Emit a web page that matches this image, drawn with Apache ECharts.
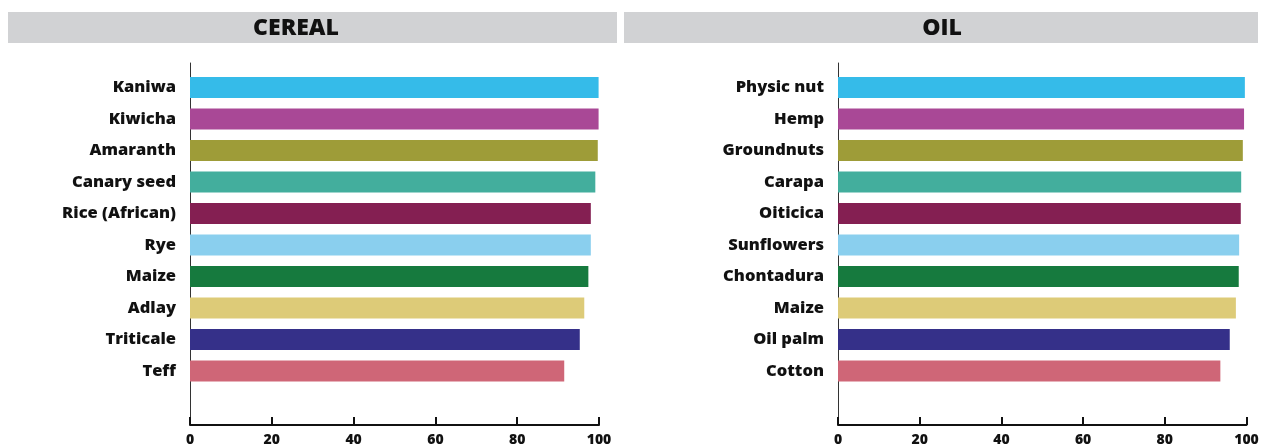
<!DOCTYPE html>
<html><head><meta charset="utf-8">
<script src="https://cdn.jsdelivr.net/npm/echarts@6/dist/echarts.min.js"></script>
<style>html,body{margin:0;padding:0;background:#fff}#c{width:1265px;height:447px}</style>
</head><body><div id="c"></div>
<script>
const panelTitles = ['CEREAL', 'OIL'];
const cerealCategories = ['Kaniwa','Kiwicha','Amaranth','Canary seed','Rice (African)','Rye','Maize','Adlay','Triticale','Teff'];
const cerealValues = [99.9, 99.9, 99.7, 99.1, 98.0, 98.0, 97.4, 96.4, 95.3, 91.5];
const oilCategories = ['Physic nut','Hemp','Groundnuts','Carapa','Oiticica','Sunflowers','Chontadura','Maize','Oil palm','Cotton'];
const oilValues = [99.6, 99.4, 99.1, 98.7, 98.6, 98.2, 98.1, 97.4, 95.9, 93.6];
const xTicks = [0, 20, 40, 60, 80, 100];
const barColors = ['#35bbe9','#a94896','#9e9c38','#43ae9d','#841f52','#8acfee','#167a3e','#ddcb78','#353089','#cf6677'];

const FONT = '"Open Sans", "Noto Sans", sans-serif';
const panels = [
  {left: 190, right: 666, cats: cerealCategories, vals: cerealValues, hx: 8, hw: 609, tx: 296},
  {left: 838, right: 18.5, cats: oilCategories, vals: oilValues, hx: 624, hw: 634, tx: 942}
];

const grid = [], xAxis = [], yAxis = [], series = [], graphic = [];
panels.forEach((p, i) => {
  grid.push({left: p.left, right: p.right, top: 63, bottom: 21});
  grid.push({left: p.left, right: p.right, top: 71.75, height: 315});
  const ga = i * 2, gb = i * 2 + 1;
  xAxis.push({
    gridIndex: ga, type: 'value', min: 0, max: 100, interval: 20,
    axisLine: {show: true, lineStyle: {color: '#111', width: 2}},
    axisTick: {show: true, inside: true, length: 8, lineStyle: {color: '#111', width: 2}},
    axisLabel: {color: '#111', fontFamily: FONT, fontWeight: 800, fontSize: 14, margin: 8,
      formatter: v => xTicks.includes(v) ? String(v) : ''},
    splitLine: {show: false}
  });
  xAxis.push({gridIndex: gb, type: 'value', min: 0, max: 100, show: false});
  yAxis.push({
    gridIndex: ga, type: 'value', min: 0, max: 1,
    axisLine: {show: true, lineStyle: {color: '#333', width: 1}},
    axisTick: {show: false}, axisLabel: {show: false}, splitLine: {show: false}
  });
  yAxis.push({
    gridIndex: gb, type: 'category', inverse: true, data: p.cats,
    axisLine: {show: false}, axisTick: {show: false},
    axisLabel: {color: '#111', fontFamily: FONT, fontWeight: 800, fontSize: 16.5, margin: 14,
      padding: [7, 0, 0, 0]}
  });
  series.push({
    type: 'bar', xAxisIndex: gb, yAxisIndex: gb, barWidth: 21,
    data: p.vals.map((v, k) => ({value: v, itemStyle: {color: barColors[k]}})),
    silent: true
  });
  graphic.push({type: 'rect', left: p.hx, top: 12, shape: {width: p.hw, height: 31}, style: {fill: '#d1d2d4'}});
  graphic.push({type: 'text', x: p.tx, y: 28, style: {text: panelTitles[i], fill: '#111',
    font: '800 23px ' + FONT, textAlign: 'center', textVerticalAlign: 'middle'}});
});

const chart = echarts.init(document.getElementById('c'), null, {renderer: 'canvas'});
chart.setOption({animation: false, grid, xAxis, yAxis, series, graphic});
</script></body></html>
